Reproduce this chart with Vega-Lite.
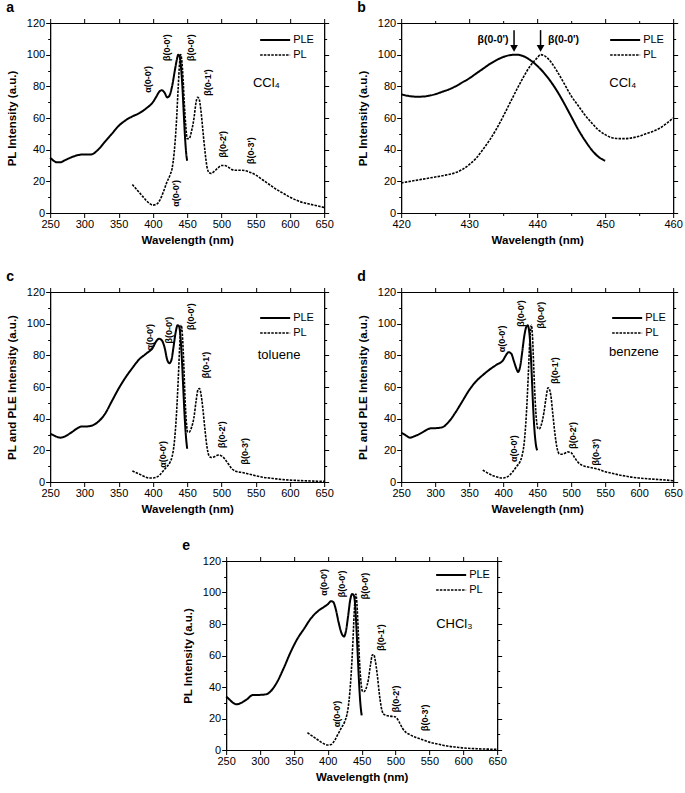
{
  "$schema": "https://vega.github.io/schema/vega-lite/v6.json",
  "padding": {"left": 5, "top": 0, "right": 3, "bottom": 3},
  "background": "white",
  "datasets": {
    "aL": [
      {"s":"PLE","w":250,"v":35},{"s":"PLE","w":255,"v":33},{"s":"PLE","w":260,"v":32},{"s":"PLE","w":265,"v":32},{"s":"PLE","w":270,"v":33},{"s":"PLE","w":280,"v":35},{"s":"PLE","w":290,"v":36.5},{"s":"PLE","w":300,"v":37},{"s":"PLE","w":310,"v":37},{"s":"PLE","w":320,"v":40},{"s":"PLE","w":330,"v":45},{"s":"PLE","w":340,"v":50},{"s":"PLE","w":350,"v":55},{"s":"PLE","w":360,"v":58.5},{"s":"PLE","w":370,"v":61},{"s":"PLE","w":380,"v":63},{"s":"PLE","w":390,"v":66},{"s":"PLE","w":400,"v":70},{"s":"PLE","w":405,"v":73.5},{"s":"PLE","w":410,"v":77},{"s":"PLE","w":413,"v":77.5},{"s":"PLE","w":417,"v":76},{"s":"PLE","w":421,"v":73},{"s":"PLE","w":424,"v":74},{"s":"PLE","w":428,"v":80},{"s":"PLE","w":432,"v":90},{"s":"PLE","w":435,"v":97},{"s":"PLE","w":437,"v":100},{"s":"PLE","w":439,"v":99},{"s":"PLE","w":441,"v":92},{"s":"PLE","w":443,"v":80},{"s":"PLE","w":445,"v":63},{"s":"PLE","w":447,"v":47},{"s":"PLE","w":449,"v":36},{"s":"PLE","w":450,"v":33},
      {"s":"PL","w":370,"v":18},{"s":"PL","w":375,"v":15.5},{"s":"PL","w":380,"v":13},{"s":"PL","w":385,"v":10.5},{"s":"PL","w":390,"v":8},{"s":"PL","w":395,"v":6},{"s":"PL","w":400,"v":5},{"s":"PL","w":405,"v":5.5},{"s":"PL","w":410,"v":8},{"s":"PL","w":415,"v":13},{"s":"PL","w":420,"v":19},{"s":"PL","w":425,"v":24},{"s":"PL","w":428,"v":28},{"s":"PL","w":431,"v":38},{"s":"PL","w":434,"v":55},{"s":"PL","w":437,"v":80},{"s":"PL","w":439,"v":95},{"s":"PL","w":440.5,"v":100},{"s":"PL","w":442,"v":97},{"s":"PL","w":444,"v":85},{"s":"PL","w":446,"v":68},{"s":"PL","w":448,"v":55},{"s":"PL","w":450,"v":47},{"s":"PL","w":453,"v":47},{"s":"PL","w":456,"v":51},{"s":"PL","w":460,"v":60},{"s":"PL","w":463,"v":70},{"s":"PL","w":465,"v":73},{"s":"PL","w":467,"v":72.5},{"s":"PL","w":470,"v":65},{"s":"PL","w":473,"v":52},{"s":"PL","w":476,"v":39},{"s":"PL","w":479,"v":29},{"s":"PL","w":482,"v":25.5},{"s":"PL","w":485,"v":25},{"s":"PL","w":490,"v":26.5},{"s":"PL","w":495,"v":28.5},{"s":"PL","w":500,"v":30},{"s":"PL","w":505,"v":30},{"s":"PL","w":510,"v":29},{"s":"PL","w":515,"v":27.5},{"s":"PL","w":520,"v":27},{"s":"PL","w":530,"v":27},{"s":"PL","w":540,"v":26},{"s":"PL","w":550,"v":24},{"s":"PL","w":560,"v":21},{"s":"PL","w":570,"v":18},{"s":"PL","w":580,"v":15},{"s":"PL","w":590,"v":12.5},{"s":"PL","w":600,"v":10},{"s":"PL","w":610,"v":8},{"s":"PL","w":620,"v":6.5},{"s":"PL","w":630,"v":5.5},{"s":"PL","w":640,"v":4.5},{"s":"PL","w":650,"v":3.5}
    ],
    "aT": [
      {"w":393,"v":76,"t":"α(0-0')"},{"w":420.6,"v":96,"t":"β(0-0')"},{"w":456,"v":96,"t":"β(0-0')"},{"w":481,"v":74,"t":"β(0-1')"},{"w":502,"v":35,"t":"β(0-2')"},{"w":543,"v":31,"t":"β(0-3')"},{"w":434,"v":4,"t":"α(0-0')"}
    ],
    "bL": [
      {"s":"PLE","w":420,"v":75},{"s":"PLE","w":421,"v":74},{"s":"PLE","w":422,"v":73.5},{"s":"PLE","w":423,"v":73.5},{"s":"PLE","w":424,"v":74},{"s":"PLE","w":425,"v":75},{"s":"PLE","w":426,"v":76.5},{"s":"PLE","w":427,"v":78},{"s":"PLE","w":428,"v":80},{"s":"PLE","w":429,"v":82.5},{"s":"PLE","w":430,"v":85},{"s":"PLE","w":431,"v":88},{"s":"PLE","w":432,"v":91},{"s":"PLE","w":433,"v":94},{"s":"PLE","w":434,"v":96.5},{"s":"PLE","w":435,"v":98.5},{"s":"PLE","w":436,"v":99.7},{"s":"PLE","w":437,"v":100},{"s":"PLE","w":438,"v":99},{"s":"PLE","w":439,"v":96.5},{"s":"PLE","w":440,"v":93},{"s":"PLE","w":441,"v":88.5},{"s":"PLE","w":442,"v":83},{"s":"PLE","w":443,"v":76.5},{"s":"PLE","w":444,"v":69},{"s":"PLE","w":445,"v":61},{"s":"PLE","w":446,"v":53},{"s":"PLE","w":447,"v":46},{"s":"PLE","w":448,"v":40},{"s":"PLE","w":449,"v":35.5},{"s":"PLE","w":450,"v":33},
      {"s":"PL","w":420,"v":19},{"s":"PL","w":422,"v":20.5},{"s":"PL","w":424,"v":22},{"s":"PL","w":426,"v":23.5},{"s":"PL","w":428,"v":25.5},{"s":"PL","w":429,"v":27.5},{"s":"PL","w":430,"v":30.5},{"s":"PL","w":431,"v":34.5},{"s":"PL","w":432,"v":40},{"s":"PL","w":433,"v":46},{"s":"PL","w":434,"v":53},{"s":"PL","w":435,"v":61},{"s":"PL","w":436,"v":69.5},{"s":"PL","w":437,"v":78},{"s":"PL","w":438,"v":86},{"s":"PL","w":439,"v":93},{"s":"PL","w":440,"v":98},{"s":"PL","w":440.5,"v":100},{"s":"PL","w":441,"v":99.5},{"s":"PL","w":442,"v":95.5},{"s":"PL","w":443,"v":89},{"s":"PL","w":444,"v":81.5},{"s":"PL","w":445,"v":74},{"s":"PL","w":446,"v":68},{"s":"PL","w":447,"v":62},{"s":"PL","w":448,"v":57},{"s":"PL","w":449,"v":52.5},{"s":"PL","w":450,"v":49.5},{"s":"PL","w":451,"v":47.5},{"s":"PL","w":452,"v":47},{"s":"PL","w":453,"v":47},{"s":"PL","w":454,"v":47.5},{"s":"PL","w":455,"v":48.5},{"s":"PL","w":456,"v":50},{"s":"PL","w":457,"v":51.5},{"s":"PL","w":458,"v":53.5},{"s":"PL","w":459,"v":56.5},{"s":"PL","w":460,"v":60}
    ],
    "bT1": [{"w":435.8,"v":109,"t":"β(0-0')"}],
    "bT2": [{"w":441.6,"v":109,"t":"β(0-0')"}],
    "bA": [
      {"w":436.6,"v":115.5,"v2":104},{"w":440.5,"v":115.5,"v2":104}
    ],
    "cL": [
      {"s":"PLE","w":250,"v":30.5},{"s":"PLE","w":255,"v":29.5},{"s":"PLE","w":260,"v":28.5},{"s":"PLE","w":265,"v":28},{"s":"PLE","w":270,"v":28.5},{"s":"PLE","w":280,"v":31},{"s":"PLE","w":290,"v":34},{"s":"PLE","w":295,"v":35},{"s":"PLE","w":300,"v":35},{"s":"PLE","w":310,"v":35.5},{"s":"PLE","w":320,"v":38},{"s":"PLE","w":330,"v":43},{"s":"PLE","w":340,"v":51},{"s":"PLE","w":350,"v":59},{"s":"PLE","w":360,"v":66},{"s":"PLE","w":370,"v":72},{"s":"PLE","w":380,"v":77.5},{"s":"PLE","w":390,"v":81},{"s":"PLE","w":400,"v":85},{"s":"PLE","w":405,"v":89},{"s":"PLE","w":409,"v":90.5},{"s":"PLE","w":413,"v":89.5},{"s":"PLE","w":417,"v":85},{"s":"PLE","w":421,"v":77},{"s":"PLE","w":424,"v":75},{"s":"PLE","w":427,"v":77},{"s":"PLE","w":430,"v":85},{"s":"PLE","w":433,"v":94},{"s":"PLE","w":436,"v":99},{"s":"PLE","w":438,"v":98.5},{"s":"PLE","w":440,"v":93},{"s":"PLE","w":442,"v":80},{"s":"PLE","w":444,"v":62},{"s":"PLE","w":446,"v":44},{"s":"PLE","w":448,"v":30},{"s":"PLE","w":450,"v":21},
      {"s":"PL","w":370,"v":7},{"s":"PL","w":375,"v":6},{"s":"PL","w":380,"v":5},{"s":"PL","w":385,"v":4},{"s":"PL","w":390,"v":3},{"s":"PL","w":395,"v":2.5},{"s":"PL","w":400,"v":2.5},{"s":"PL","w":405,"v":3},{"s":"PL","w":410,"v":4.5},{"s":"PL","w":415,"v":7},{"s":"PL","w":420,"v":9.5},{"s":"PL","w":425,"v":12.5},{"s":"PL","w":428,"v":16},{"s":"PL","w":431,"v":24},{"s":"PL","w":434,"v":40},{"s":"PL","w":437,"v":65},{"s":"PL","w":439,"v":85},{"s":"PL","w":440.5,"v":97},{"s":"PL","w":441.5,"v":99},{"s":"PL","w":443,"v":93},{"s":"PL","w":445,"v":75},{"s":"PL","w":447,"v":52},{"s":"PL","w":449,"v":37},{"s":"PL","w":451,"v":31.5},{"s":"PL","w":453,"v":31.5},{"s":"PL","w":456,"v":34},{"s":"PL","w":460,"v":41},{"s":"PL","w":463,"v":51},{"s":"PL","w":466,"v":58.5},{"s":"PL","w":468,"v":59},{"s":"PL","w":470,"v":56},{"s":"PL","w":473,"v":46},{"s":"PL","w":476,"v":33},{"s":"PL","w":479,"v":22},{"s":"PL","w":482,"v":16.5},{"s":"PL","w":485,"v":15.5},{"s":"PL","w":490,"v":16},{"s":"PL","w":495,"v":17},{"s":"PL","w":500,"v":16.5},{"s":"PL","w":505,"v":14.5},{"s":"PL","w":510,"v":11.5},{"s":"PL","w":515,"v":8.5},{"s":"PL","w":520,"v":7},{"s":"PL","w":525,"v":6.3},{"s":"PL","w":530,"v":6},{"s":"PL","w":540,"v":5},{"s":"PL","w":550,"v":4},{"s":"PL","w":560,"v":3},{"s":"PL","w":570,"v":2.5},{"s":"PL","w":580,"v":2},{"s":"PL","w":590,"v":1.5},{"s":"PL","w":600,"v":1.2},{"s":"PL","w":620,"v":0.8},{"s":"PL","w":650,"v":0.4}
    ],
    "cT": [
      {"w":395.5,"v":83,"t":"α(0-0')"},{"w":423,"v":87.5,"t":"β(0-0')"},{"w":456,"v":96,"t":"β(0-0')"},{"w":477,"v":65.5,"t":"β(0-1')"},{"w":500.7,"v":21.5,"t":"β(0-2')"},{"w":534.6,"v":11,"t":"β(0-3')"},{"w":414,"v":9,"t":"α(0-0')"}
    ],
    "dL": [
      {"s":"PLE","w":250,"v":31},{"s":"PLE","w":255,"v":30},{"s":"PLE","w":260,"v":28.5},{"s":"PLE","w":263,"v":28},{"s":"PLE","w":270,"v":29},{"s":"PLE","w":280,"v":31},{"s":"PLE","w":290,"v":33.5},{"s":"PLE","w":295,"v":34},{"s":"PLE","w":300,"v":34},{"s":"PLE","w":310,"v":34.5},{"s":"PLE","w":320,"v":38},{"s":"PLE","w":330,"v":44},{"s":"PLE","w":340,"v":51},{"s":"PLE","w":350,"v":58},{"s":"PLE","w":360,"v":63.5},{"s":"PLE","w":370,"v":67.5},{"s":"PLE","w":380,"v":71},{"s":"PLE","w":390,"v":74},{"s":"PLE","w":400,"v":77},{"s":"PLE","w":404,"v":80},{"s":"PLE","w":408,"v":82},{"s":"PLE","w":412,"v":81},{"s":"PLE","w":416,"v":76},{"s":"PLE","w":420,"v":71},{"s":"PLE","w":422,"v":69.5},{"s":"PLE","w":425,"v":73},{"s":"PLE","w":428,"v":82},{"s":"PLE","w":431,"v":92},{"s":"PLE","w":434,"v":98},{"s":"PLE","w":436,"v":99},{"s":"PLE","w":438,"v":96},{"s":"PLE","w":440,"v":86},{"s":"PLE","w":442,"v":68},{"s":"PLE","w":444,"v":48},{"s":"PLE","w":446,"v":33},{"s":"PLE","w":448,"v":24},{"s":"PLE","w":450,"v":20},
      {"s":"PL","w":370,"v":7.5},{"s":"PL","w":375,"v":6.2},{"s":"PL","w":380,"v":5},{"s":"PL","w":385,"v":4},{"s":"PL","w":390,"v":3.3},{"s":"PL","w":395,"v":2.7},{"s":"PL","w":400,"v":2.5},{"s":"PL","w":405,"v":3},{"s":"PL","w":410,"v":4.5},{"s":"PL","w":415,"v":7},{"s":"PL","w":420,"v":10},{"s":"PL","w":425,"v":13},{"s":"PL","w":428,"v":17},{"s":"PL","w":431,"v":25},{"s":"PL","w":434,"v":42},{"s":"PL","w":437,"v":68},{"s":"PL","w":439,"v":88},{"s":"PL","w":440.5,"v":97},{"s":"PL","w":441.5,"v":99},{"s":"PL","w":443,"v":93},{"s":"PL","w":445,"v":72},{"s":"PL","w":447,"v":52},{"s":"PL","w":449,"v":39},{"s":"PL","w":451,"v":34},{"s":"PL","w":453,"v":33.5},{"s":"PL","w":456,"v":36},{"s":"PL","w":460,"v":44},{"s":"PL","w":463,"v":53},{"s":"PL","w":466,"v":59.5},{"s":"PL","w":468,"v":58.5},{"s":"PL","w":470,"v":55},{"s":"PL","w":473,"v":43},{"s":"PL","w":476,"v":31},{"s":"PL","w":479,"v":22},{"s":"PL","w":482,"v":18},{"s":"PL","w":485,"v":17.5},{"s":"PL","w":490,"v":18},{"s":"PL","w":495,"v":19},{"s":"PL","w":500,"v":18.5},{"s":"PL","w":505,"v":15.5},{"s":"PL","w":510,"v":12.5},{"s":"PL","w":515,"v":10.8},{"s":"PL","w":520,"v":10},{"s":"PL","w":530,"v":9},{"s":"PL","w":540,"v":8},{"s":"PL","w":550,"v":6.5},{"s":"PL","w":560,"v":5.5},{"s":"PL","w":570,"v":4.5},{"s":"PL","w":580,"v":3.7},{"s":"PL","w":590,"v":3},{"s":"PL","w":600,"v":2.5},{"s":"PL","w":620,"v":1.8},{"s":"PL","w":640,"v":1.2},{"s":"PL","w":650,"v":0.8}
    ],
    "dT": [
      {"w":398,"v":82,"t":"α(0-0')"},{"w":426,"v":98,"t":"β(0-0')"},{"w":455,"v":97,"t":"β(0-0')"},{"w":476,"v":62,"t":"β(0-1')"},{"w":503,"v":21,"t":"β(0-2')"},{"w":537,"v":10.5,"t":"β(0-3')"},{"w":416,"v":12.6,"t":"α(0-0')"}
    ],
    "eL": [
      {"s":"PLE","w":250,"v":34},{"s":"PLE","w":255,"v":32},{"s":"PLE","w":260,"v":30},{"s":"PLE","w":265,"v":29},{"s":"PLE","w":270,"v":29.5},{"s":"PLE","w":280,"v":32},{"s":"PLE","w":290,"v":35},{"s":"PLE","w":295,"v":35},{"s":"PLE","w":300,"v":35},{"s":"PLE","w":310,"v":35.5},{"s":"PLE","w":315,"v":37},{"s":"PLE","w":325,"v":43},{"s":"PLE","w":335,"v":52},{"s":"PLE","w":345,"v":62},{"s":"PLE","w":355,"v":70.5},{"s":"PLE","w":365,"v":77},{"s":"PLE","w":375,"v":83.5},{"s":"PLE","w":385,"v":88},{"s":"PLE","w":395,"v":91},{"s":"PLE","w":400,"v":92.5},{"s":"PLE","w":405,"v":94.5},{"s":"PLE","w":408,"v":94},{"s":"PLE","w":412,"v":89},{"s":"PLE","w":416,"v":81},{"s":"PLE","w":420,"v":74.5},{"s":"PLE","w":424,"v":72},{"s":"PLE","w":427,"v":76},{"s":"PLE","w":430,"v":85},{"s":"PLE","w":433,"v":95},{"s":"PLE","w":436,"v":99},{"s":"PLE","w":438,"v":98.5},{"s":"PLE","w":440,"v":94},{"s":"PLE","w":442,"v":80},{"s":"PLE","w":444,"v":62},{"s":"PLE","w":446,"v":44},{"s":"PLE","w":448,"v":30},{"s":"PLE","w":450,"v":22},
      {"s":"PL","w":370,"v":11},{"s":"PL","w":375,"v":9.5},{"s":"PL","w":380,"v":8},{"s":"PL","w":385,"v":6.5},{"s":"PL","w":390,"v":5},{"s":"PL","w":395,"v":3.8},{"s":"PL","w":400,"v":3.2},{"s":"PL","w":405,"v":3.5},{"s":"PL","w":410,"v":6},{"s":"PL","w":415,"v":10},{"s":"PL","w":420,"v":14},{"s":"PL","w":425,"v":18},{"s":"PL","w":428,"v":22},{"s":"PL","w":431,"v":30},{"s":"PL","w":434,"v":45},{"s":"PL","w":437,"v":68},{"s":"PL","w":439,"v":87},{"s":"PL","w":440.5,"v":97},{"s":"PL","w":441.5,"v":99},{"s":"PL","w":443,"v":93},{"s":"PL","w":445,"v":75},{"s":"PL","w":447,"v":55},{"s":"PL","w":449,"v":43},{"s":"PL","w":451,"v":37.5},{"s":"PL","w":453,"v":37},{"s":"PL","w":456,"v":38.5},{"s":"PL","w":460,"v":45},{"s":"PL","w":463,"v":54},{"s":"PL","w":466,"v":60.5},{"s":"PL","w":468,"v":60.5},{"s":"PL","w":470,"v":57},{"s":"PL","w":473,"v":48},{"s":"PL","w":476,"v":36},{"s":"PL","w":479,"v":27},{"s":"PL","w":482,"v":23},{"s":"PL","w":486,"v":22},{"s":"PL","w":492,"v":21.5},{"s":"PL","w":500,"v":21},{"s":"PL","w":505,"v":18},{"s":"PL","w":510,"v":14},{"s":"PL","w":515,"v":11.3},{"s":"PL","w":520,"v":10},{"s":"PL","w":530,"v":8},{"s":"PL","w":540,"v":6.5},{"s":"PL","w":550,"v":5},{"s":"PL","w":560,"v":4},{"s":"PL","w":570,"v":3},{"s":"PL","w":580,"v":2.3},{"s":"PL","w":590,"v":1.8},{"s":"PL","w":600,"v":1.3},{"s":"PL","w":620,"v":0.8},{"s":"PL","w":650,"v":0.4}
    ],
    "eT": [
      {"w":394,"v":98,"t":"α(0-0')"},{"w":421,"v":97,"t":"β(0-0')"},{"w":454.6,"v":95.7,"t":"β(0-0')"},{"w":479,"v":63,"t":"β(0-1')"},{"w":501,"v":24,"t":"β(0-2')"},{"w":543,"v":12,"t":"β(0-3')"},{"w":413,"v":14.4,"t":"α(0-0')"}
    ]
  },
  "vconcat": [
    {
      "hconcat": [
        {
          "width": 274, "height": 190,
          "title": "a",
          "layer": [
            {
              "data": {"name": "aL"},
              "mark": {"type": "line", "interpolate": "monotone", "color": "black"},
              "encoding": {
                "x": {"field": "w", "type": "quantitative", "scale": {"domain": [250, 650], "nice": false, "zero": false}, "axis": {"orient": "bottom", "values": [250,300,350,400,450,500,550,600,650], "title": "Wavelength (nm)"}},
                "y": {"field": "v", "type": "quantitative", "scale": {"domain": [0, 120], "nice": false}, "axis": {"orient": "left", "values": [0,10,20,30,40,50,60,70,80,90,100,110,120], "labelExpr": "datum.value % 20 === 0 ? datum.label : ''", "tickSize": {"condition": {"test": "datum.value % 20 !== 0", "value": 2.5}, "value": 4.5}, "title": "PL Intensity (a.u.)"}},
                "strokeDash": {"field": "s", "type": "nominal", "scale": {"domain": ["PLE", "PL"], "range": [[1, 0], [2.5, 1.2]]}, "legend": {"title": null, "orient": "none", "legendX": 209, "legendY": 11}},
                "strokeWidth": {"field": "s", "type": "nominal", "scale": {"domain": ["PLE", "PL"], "range": [2, 1.6]}, "legend": {"title": null, "orient": "none", "legendX": 209, "legendY": 11}}
              }
            },
            {
              "data": {"name": "aT"},
              "mark": {"type": "text", "angle": 270, "align": "left", "baseline": "middle", "fontSize": 9, "fontWeight": "bold"},
              "encoding": {
                "x": {"field": "w", "type": "quantitative", "scale": {"domain": [250, 650], "nice": false, "zero": false}, "axis": {"orient": "top", "values": [250,300,350,400,450,500,550,600,650], "labels": false, "title": null}},
                "y": {"field": "v", "type": "quantitative", "scale": {"domain": [0, 120], "nice": false}, "axis": {"orient": "right", "values": [0,10,20,30,40,50,60,70,80,90,100,110,120], "labels": false, "tickSize": {"condition": {"test": "datum.value % 20 !== 0", "value": 2.5}, "value": 4.5}, "title": null}},
                "text": {"field": "t"}
              }
            },
            {
              "data": {"values": [{"w": 546, "v": 82, "t": "CCl₄"}]},
              "mark": {"type": "text", "align": "left", "baseline": "middle", "fontSize": 13},
              "encoding": {
                "x": {"field": "w", "type": "quantitative", "scale": {"domain": [250, 650], "nice": false, "zero": false}, "axis": null},
                "y": {"field": "v", "type": "quantitative", "scale": {"domain": [0, 120], "nice": false}, "axis": null},
                "text": {"field": "t"}
              }
            }
          ],
          "resolve": {"axis": {"x": "independent", "y": "independent"}}
        },
        {
          "width": 272, "height": 190,
          "title": "b",
          "layer": [
            {
              "data": {"name": "bL"},
              "mark": {"type": "line", "interpolate": "monotone", "color": "black"},
              "encoding": {
                "x": {"field": "w", "type": "quantitative", "scale": {"domain": [420, 460], "nice": false, "zero": false}, "axis": {"orient": "bottom", "values": [420,425,430,435,440,445,450,455,460], "labelExpr": "datum.value % 10 === 0 ? datum.label : ''", "tickSize": {"condition": {"test": "datum.value % 10 !== 0", "value": 2.5}, "value": 4.5}, "title": "Wavelength (nm)"}},
                "y": {"field": "v", "type": "quantitative", "scale": {"domain": [0, 120], "nice": false}, "axis": {"orient": "left", "values": [0,10,20,30,40,50,60,70,80,90,100,110,120], "labelExpr": "datum.value % 20 === 0 ? datum.label : ''", "tickSize": {"condition": {"test": "datum.value % 20 !== 0", "value": 2.5}, "value": 4.5}, "title": "PL Intensity (a.u.)"}},
                "strokeDash": {"field": "s", "type": "nominal", "scale": {"domain": ["PLE", "PL"], "range": [[1, 0], [2.5, 1.2]]}, "legend": {"title": null, "orient": "none", "legendX": 208, "legendY": 11}},
                "strokeWidth": {"field": "s", "type": "nominal", "scale": {"domain": ["PLE", "PL"], "range": [2, 1.6]}, "legend": {"title": null, "orient": "none", "legendX": 208, "legendY": 11}}
              }
            },
            {
              "data": {"name": "bT1"},
              "mark": {"type": "text", "align": "right", "baseline": "middle", "fontSize": 10.5, "fontWeight": "bold"},
              "encoding": {
                "x": {"field": "w", "type": "quantitative", "scale": {"domain": [420, 460], "nice": false, "zero": false}, "axis": {"orient": "top", "values": [420,425,430,435,440,445,450,455,460], "labels": false, "tickSize": {"condition": {"test": "datum.value % 10 !== 0", "value": 2.5}, "value": 4.5}, "title": null}},
                "y": {"field": "v", "type": "quantitative", "scale": {"domain": [0, 120], "nice": false}, "axis": {"orient": "right", "values": [0,10,20,30,40,50,60,70,80,90,100,110,120], "labels": false, "tickSize": {"condition": {"test": "datum.value % 20 !== 0", "value": 2.5}, "value": 4.5}, "title": null}},
                "text": {"field": "t"}
              }
            },
            {
              "data": {"name": "bT2"},
              "mark": {"type": "text", "align": "left", "baseline": "middle", "fontSize": 10.5, "fontWeight": "bold"},
              "encoding": {
                "x": {"field": "w", "type": "quantitative", "scale": {"domain": [420, 460], "nice": false, "zero": false}, "axis": null},
                "y": {"field": "v", "type": "quantitative", "scale": {"domain": [0, 120], "nice": false}, "axis": null},
                "text": {"field": "t"}
              }
            },
            {
              "data": {"name": "bA"},
              "mark": {"type": "rule", "color": "black", "strokeWidth": 1.5},
              "encoding": {
                "x": {"field": "w", "type": "quantitative", "scale": {"domain": [420, 460], "nice": false, "zero": false}, "axis": null},
                "y": {"field": "v", "type": "quantitative", "scale": {"domain": [0, 120], "nice": false}, "axis": null},
                "y2": {"field": "v2"}
              }
            },
            {
              "data": {"name": "bA"},
              "mark": {"type": "point", "shape": "triangle-down", "filled": true, "color": "black", "size": 60, "opacity": 1},
              "encoding": {
                "x": {"field": "w", "type": "quantitative", "scale": {"domain": [420, 460], "nice": false, "zero": false}, "axis": null},
                "y": {"field": "v2", "type": "quantitative", "scale": {"domain": [0, 120], "nice": false}, "axis": null}
              }
            },
            {
              "data": {"values": [{"w": 450.6, "v": 82, "t": "CCl₄"}]},
              "mark": {"type": "text", "align": "left", "baseline": "middle", "fontSize": 13},
              "encoding": {
                "x": {"field": "w", "type": "quantitative", "scale": {"domain": [420, 460], "nice": false, "zero": false}, "axis": null},
                "y": {"field": "v", "type": "quantitative", "scale": {"domain": [0, 120], "nice": false}, "axis": null},
                "text": {"field": "t"}
              }
            }
          ],
          "resolve": {"axis": {"x": "independent", "y": "independent"}}
        }
      ],
      "resolve": {"legend": {"strokeDash": "independent", "strokeWidth": "independent"}}
    },
    {
      "hconcat": [
        {
          "width": 274, "height": 190,
          "title": "c",
          "layer": [
            {
              "data": {"name": "cL"},
              "mark": {"type": "line", "interpolate": "monotone", "color": "black"},
              "encoding": {
                "x": {"field": "w", "type": "quantitative", "scale": {"domain": [250, 650], "nice": false, "zero": false}, "axis": {"orient": "bottom", "values": [250,300,350,400,450,500,550,600,650], "title": "Wavelength (nm)"}},
                "y": {"field": "v", "type": "quantitative", "scale": {"domain": [0, 120], "nice": false}, "axis": {"orient": "left", "values": [0,10,20,30,40,50,60,70,80,90,100,110,120], "labelExpr": "datum.value % 20 === 0 ? datum.label : ''", "tickSize": {"condition": {"test": "datum.value % 20 !== 0", "value": 2.5}, "value": 4.5}, "title": "PL and PLE Intensity (a.u.)"}},
                "strokeDash": {"field": "s", "type": "nominal", "scale": {"domain": ["PLE", "PL"], "range": [[1, 0], [2.5, 1.2]]}, "legend": {"title": null, "orient": "none", "legendX": 209, "legendY": 20}},
                "strokeWidth": {"field": "s", "type": "nominal", "scale": {"domain": ["PLE", "PL"], "range": [2, 1.6]}, "legend": {"title": null, "orient": "none", "legendX": 209, "legendY": 20}}
              }
            },
            {
              "data": {"name": "cT"},
              "mark": {"type": "text", "angle": 270, "align": "left", "baseline": "middle", "fontSize": 9, "fontWeight": "bold"},
              "encoding": {
                "x": {"field": "w", "type": "quantitative", "scale": {"domain": [250, 650], "nice": false, "zero": false}, "axis": {"orient": "top", "values": [250,300,350,400,450,500,550,600,650], "labels": false, "title": null}},
                "y": {"field": "v", "type": "quantitative", "scale": {"domain": [0, 120], "nice": false}, "axis": {"orient": "right", "values": [0,10,20,30,40,50,60,70,80,90,100,110,120], "labels": false, "tickSize": {"condition": {"test": "datum.value % 20 !== 0", "value": 2.5}, "value": 4.5}, "title": null}},
                "text": {"field": "t"}
              }
            },
            {
              "data": {"values": [{"w": 553, "v": 80, "t": "toluene"}]},
              "mark": {"type": "text", "align": "left", "baseline": "middle", "fontSize": 13},
              "encoding": {
                "x": {"field": "w", "type": "quantitative", "scale": {"domain": [250, 650], "nice": false, "zero": false}, "axis": null},
                "y": {"field": "v", "type": "quantitative", "scale": {"domain": [0, 120], "nice": false}, "axis": null},
                "text": {"field": "t"}
              }
            }
          ],
          "resolve": {"axis": {"x": "independent", "y": "independent"}}
        },
        {
          "width": 272, "height": 190,
          "title": "d",
          "layer": [
            {
              "data": {"name": "dL"},
              "mark": {"type": "line", "interpolate": "monotone", "color": "black"},
              "encoding": {
                "x": {"field": "w", "type": "quantitative", "scale": {"domain": [250, 650], "nice": false, "zero": false}, "axis": {"orient": "bottom", "values": [250,300,350,400,450,500,550,600,650], "title": "Wavelength (nm)"}},
                "y": {"field": "v", "type": "quantitative", "scale": {"domain": [0, 120], "nice": false}, "axis": {"orient": "left", "values": [0,10,20,30,40,50,60,70,80,90,100,110,120], "labelExpr": "datum.value % 20 === 0 ? datum.label : ''", "tickSize": {"condition": {"test": "datum.value % 20 !== 0", "value": 2.5}, "value": 4.5}, "title": "PL and PLE Intensity (a.u.)"}},
                "strokeDash": {"field": "s", "type": "nominal", "scale": {"domain": ["PLE", "PL"], "range": [[1, 0], [2.5, 1.2]]}, "legend": {"title": null, "orient": "none", "legendX": 210, "legendY": 20}},
                "strokeWidth": {"field": "s", "type": "nominal", "scale": {"domain": ["PLE", "PL"], "range": [2, 1.6]}, "legend": {"title": null, "orient": "none", "legendX": 210, "legendY": 20}}
              }
            },
            {
              "data": {"name": "dT"},
              "mark": {"type": "text", "angle": 270, "align": "left", "baseline": "middle", "fontSize": 9, "fontWeight": "bold"},
              "encoding": {
                "x": {"field": "w", "type": "quantitative", "scale": {"domain": [250, 650], "nice": false, "zero": false}, "axis": {"orient": "top", "values": [250,300,350,400,450,500,550,600,650], "labels": false, "title": null}},
                "y": {"field": "v", "type": "quantitative", "scale": {"domain": [0, 120], "nice": false}, "axis": {"orient": "right", "values": [0,10,20,30,40,50,60,70,80,90,100,110,120], "labels": false, "tickSize": {"condition": {"test": "datum.value % 20 !== 0", "value": 2.5}, "value": 4.5}, "title": null}},
                "text": {"field": "t"}
              }
            },
            {
              "data": {"values": [{"w": 555.6, "v": 82, "t": "benzene"}]},
              "mark": {"type": "text", "align": "left", "baseline": "middle", "fontSize": 13},
              "encoding": {
                "x": {"field": "w", "type": "quantitative", "scale": {"domain": [250, 650], "nice": false, "zero": false}, "axis": null},
                "y": {"field": "v", "type": "quantitative", "scale": {"domain": [0, 120], "nice": false}, "axis": null},
                "text": {"field": "t"}
              }
            }
          ],
          "resolve": {"axis": {"x": "independent", "y": "independent"}}
        }
      ],
      "resolve": {"legend": {"strokeDash": "independent", "strokeWidth": "independent"}}
    },
    {
      "width": 271, "height": 189,
      "title": "e",
      "layer": [
        {
          "data": {"name": "eL"},
          "mark": {"type": "line", "interpolate": "monotone", "color": "black"},
          "encoding": {
            "x": {"field": "w", "type": "quantitative", "scale": {"domain": [250, 650], "nice": false, "zero": false}, "axis": {"orient": "bottom", "values": [250,300,350,400,450,500,550,600,650], "title": "Wavelength (nm)"}},
            "y": {"field": "v", "type": "quantitative", "scale": {"domain": [0, 120], "nice": false}, "axis": {"orient": "left", "values": [0,10,20,30,40,50,60,70,80,90,100,110,120], "labelExpr": "datum.value % 20 === 0 ? datum.label : ''", "tickSize": {"condition": {"test": "datum.value % 20 !== 0", "value": 2.5}, "value": 4.5}, "title": "PL Intensity (a.u.)"}},
            "strokeDash": {"field": "s", "type": "nominal", "scale": {"domain": ["PLE", "PL"], "range": [[1, 0], [2.5, 1.2]]}, "legend": {"title": null, "orient": "none", "legendX": 209, "legendY": 8}},
            "strokeWidth": {"field": "s", "type": "nominal", "scale": {"domain": ["PLE", "PL"], "range": [2, 1.6]}, "legend": {"title": null, "orient": "none", "legendX": 209, "legendY": 8}}
          }
        },
        {
          "data": {"name": "eT"},
          "mark": {"type": "text", "angle": 270, "align": "left", "baseline": "middle", "fontSize": 9, "fontWeight": "bold"},
          "encoding": {
            "x": {"field": "w", "type": "quantitative", "scale": {"domain": [250, 650], "nice": false, "zero": false}, "axis": {"orient": "top", "values": [250,300,350,400,450,500,550,600,650], "labels": false, "title": null}},
            "y": {"field": "v", "type": "quantitative", "scale": {"domain": [0, 120], "nice": false}, "axis": {"orient": "right", "values": [0,10,20,30,40,50,60,70,80,90,100,110,120], "labels": false, "tickSize": {"condition": {"test": "datum.value % 20 !== 0", "value": 2.5}, "value": 4.5}, "title": null}},
            "text": {"field": "t"}
          }
        },
        {
          "data": {"values": [{"w": 560, "v": 80, "t": "CHCl₃"}]},
          "mark": {"type": "text", "align": "left", "baseline": "middle", "fontSize": 13},
          "encoding": {
            "x": {"field": "w", "type": "quantitative", "scale": {"domain": [250, 650], "nice": false, "zero": false}, "axis": null},
            "y": {"field": "v", "type": "quantitative", "scale": {"domain": [0, 120], "nice": false}, "axis": null},
            "text": {"field": "t"}
          }
        }
      ],
      "resolve": {"axis": {"x": "independent", "y": "independent"}}
    }
  ],
  "spacing": 22,
  "center": true,
  "resolve": {"legend": {"strokeDash": "independent", "strokeWidth": "independent"}},
  "config": {
    "font": "Liberation Sans",
    "view": {"stroke": "black", "strokeWidth": 1},
    "concat": {"spacing": 22},
    "title": {"anchor": "start", "frame": "bounds", "fontSize": 14, "fontWeight": "bold", "font": "Liberation Sans", "offset": 2, "color": "black"},
    "axis": {"grid": false, "domainColor": "black", "tickColor": "black", "tickSize": 4.5, "labelFont": "Liberation Sans", "labelFontSize": 11, "labelColor": "black", "labelPadding": 1, "titleFont": "Liberation Sans", "titleFontSize": 11.5, "titleFontWeight": "bold", "titleColor": "black"},
    "axisX": {"labelFlush": false, "titlePadding": 5},
    "axisY": {"titlePadding": 9},
    "legend": {"padding": 0, "symbolType": "stroke", "symbolSize": 900, "clipHeight": 12, "symbolStrokeColor": "black", "labelFontSize": 11, "labelFont": "Liberation Sans", "labelColor": "black", "rowPadding": 3, "labelOffset": 2},
    "text": {"font": "Liberation Sans", "color": "black"}
  }
}
